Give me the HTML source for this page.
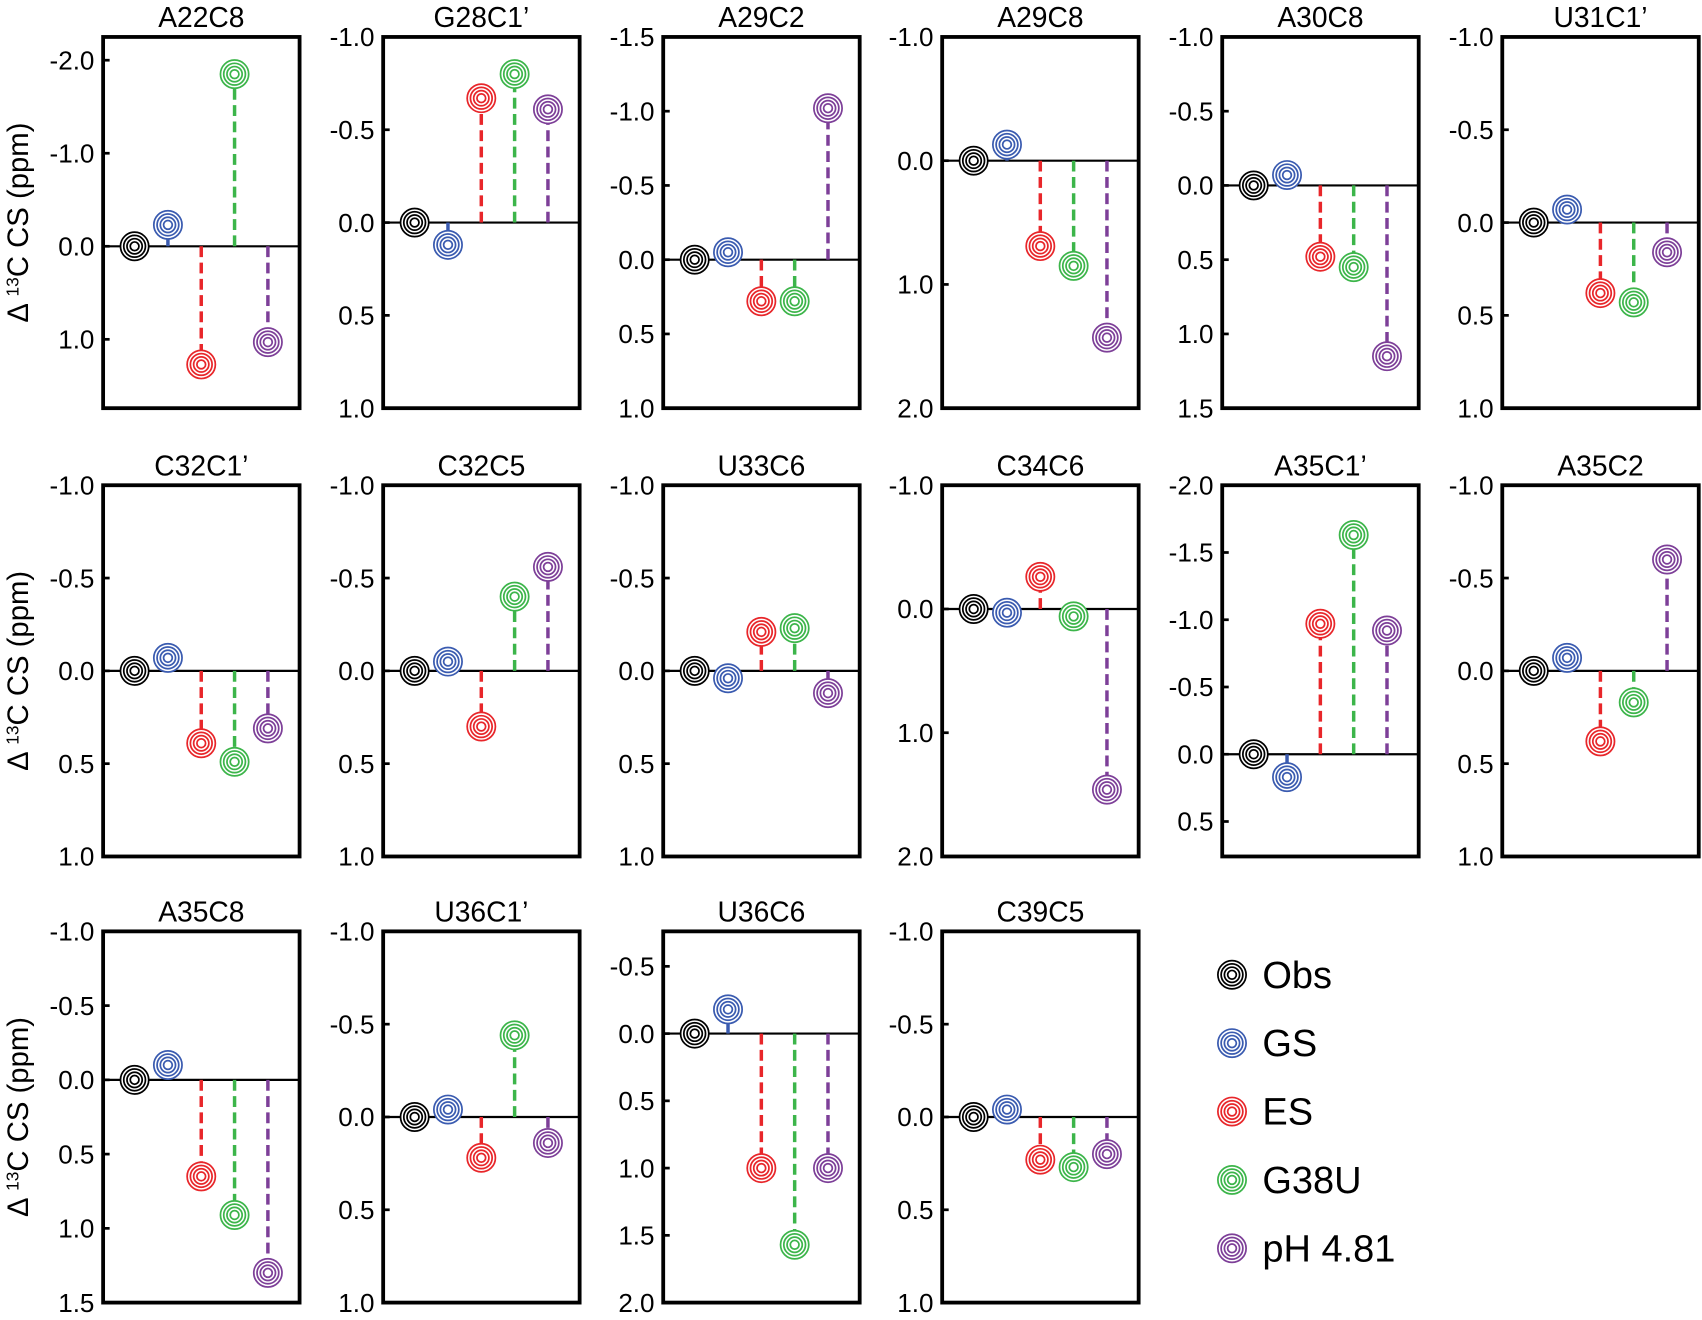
<!DOCTYPE html>
<html><head><meta charset="utf-8"><style>
html,body{margin:0;padding:0;background:#fff;}
svg{display:block;}
text{font-family:"Liberation Sans",Arial,sans-serif;fill:#000;}
</style></head><body>
<svg id="s" width="1702" height="1320" viewBox="0 0 1568 1216" xmlns="http://www.w3.org/2000/svg"></svg>
<script>
const C=['#000','#3a5bb0','#e8262a','#3cb54a','#7d3f98'];
const cols=[95,353,611,868,1126,1384];
const rows=[[34,376],[447,789],[858,1200]];
const P=[
 ['A22C8',0,0,-2.25,1.74,[-2,-1,0,1],[0,-0.23,1.27,-1.85,1.03]],
 ['G28C1\u2019',0,1,-1,1,[-1,-0.5,0,0.5,1],[0,0.12,-0.67,-0.8,-0.61]],
 ['A29C2',0,2,-1.5,1,[-1.5,-1,-0.5,0,0.5,1],[0,-0.05,0.28,0.28,-1.02]],
 ['A29C8',0,3,-1,2,[-1,0,1,2],[0,-0.13,0.69,0.85,1.43]],
 ['A30C8',0,4,-1,1.5,[-1,-0.5,0,0.5,1,1.5],[0,-0.07,0.48,0.55,1.15]],
 ['U31C1\u2019',0,5,-1,1,[-1,-0.5,0,0.5,1],[0,-0.07,0.38,0.43,0.16]],
 ['C32C1\u2019',1,0,-1,1,[-1,-0.5,0,0.5,1],[0,-0.07,0.39,0.49,0.31]],
 ['C32C5',1,1,-1,1,[-1,-0.5,0,0.5,1],[0,-0.05,0.3,-0.4,-0.56]],
 ['U33C6',1,2,-1,1,[-1,-0.5,0,0.5,1],[0,0.04,-0.21,-0.23,0.12]],
 ['C34C6',1,3,-1,2,[-1,0,1,2],[0,0.03,-0.26,0.06,1.46]],
 ['A35C1\u2019',1,4,-2,0.76,[-2,-1.5,-1,-0.5,0,0.5],[0,0.17,-0.97,-1.63,-0.92]],
 ['A35C2',1,5,-1,1,[-1,-0.5,0,0.5,1],[0,-0.07,0.38,0.17,-0.6]],
 ['A35C8',2,0,-1,1.5,[-1,-0.5,0,0.5,1,1.5],[0,-0.1,0.65,0.91,1.3]],
 ['U36C1\u2019',2,1,-1,1,[-1,-0.5,0,0.5,1],[0,-0.04,0.22,-0.44,0.14]],
 ['U36C6',2,2,-0.76,2,[-0.5,0,0.5,1,1.5,2],[0,-0.18,1.0,1.57,1.0]],
 ['C39C5',2,3,-1,1,[-1,-0.5,0,0.5,1],[0,-0.04,0.23,0.27,0.2]]
];
let h='';
function marker(x,y,c){return `<circle cx="${x}" cy="${y}" r="13" fill="#fff" stroke="${c}" stroke-width="1.6"/><circle cx="${x}" cy="${y}" r="10" fill="none" stroke="${c}" stroke-width="1.6"/><circle cx="${x}" cy="${y}" r="7" fill="none" stroke="${c}" stroke-width="1.6"/><circle cx="${x}" cy="${y}" r="4" fill="none" stroke="${c}" stroke-width="1.6"/><circle cx="${x}" cy="${y}" r="2" fill="#fff"/>`;}
for(const [t,r,c,y0,y1,ticks,v] of P){
 const L=cols[c],R=L+181,T=rows[r][0],B=rows[r][1];
 const Y=val=>T+(val-y0)/(y1-y0)*(B-T);
 const z=Y(0);
 h+=`<text x="${(L+R)/2}" y="${T-9}" font-size="26" text-anchor="middle">${t}</text>`;
 for(const tk of ticks){const y=Y(tk);h+=`<line x1="${L}" x2="${L+6}" y1="${y}" y2="${y}" stroke="#000" stroke-width="2.5"/><text x="${L-8}" y="${y+8.5}" font-size="24" text-anchor="end">${tk.toFixed(1)}</text>`;}
 h+=`<line x1="${L}" x2="${R}" y1="${z}" y2="${z}" stroke="#000" stroke-width="2"/>`;
 for(let i=1;i<5;i++){const x=L+29+i*30.7,y=Y(v[i]);
  h+=`<line x1="${x}" x2="${x}" y1="${z}" y2="${y}" stroke="${C[i]}" stroke-width="3.2" ${i>1?'stroke-dasharray="10,5"':''}/>`;}
 for(let i=0;i<5;i++){const x=L+29+i*30.7,y=Y(v[i]);h+=marker(x,y,C[i]);}
 h+=`<rect x="${L}" y="${T}" width="181" height="${B-T}" fill="none" stroke="#000" stroke-width="3.5"/>`;
}
for(const [a,b] of rows){const m=(a+b)/2;h+=`<text transform="translate(26,${m}) rotate(-90)" font-size="27" text-anchor="middle">\u0394 <tspan font-size="16" dy="-9">13</tspan><tspan dy="9">C CS (ppm)</tspan></text>`;}
const lab=['Obs','GS','ES','G38U','pH 4.81'];
for(let i=0;i<5;i++){const y=898+i*63;h+=marker(1135,y,C[i]);h+=`<text x="1163" y="${y+12}" font-size="35">${lab[i]}</text>`;}
document.getElementById('s').innerHTML=h;
</script>
</body></html>
